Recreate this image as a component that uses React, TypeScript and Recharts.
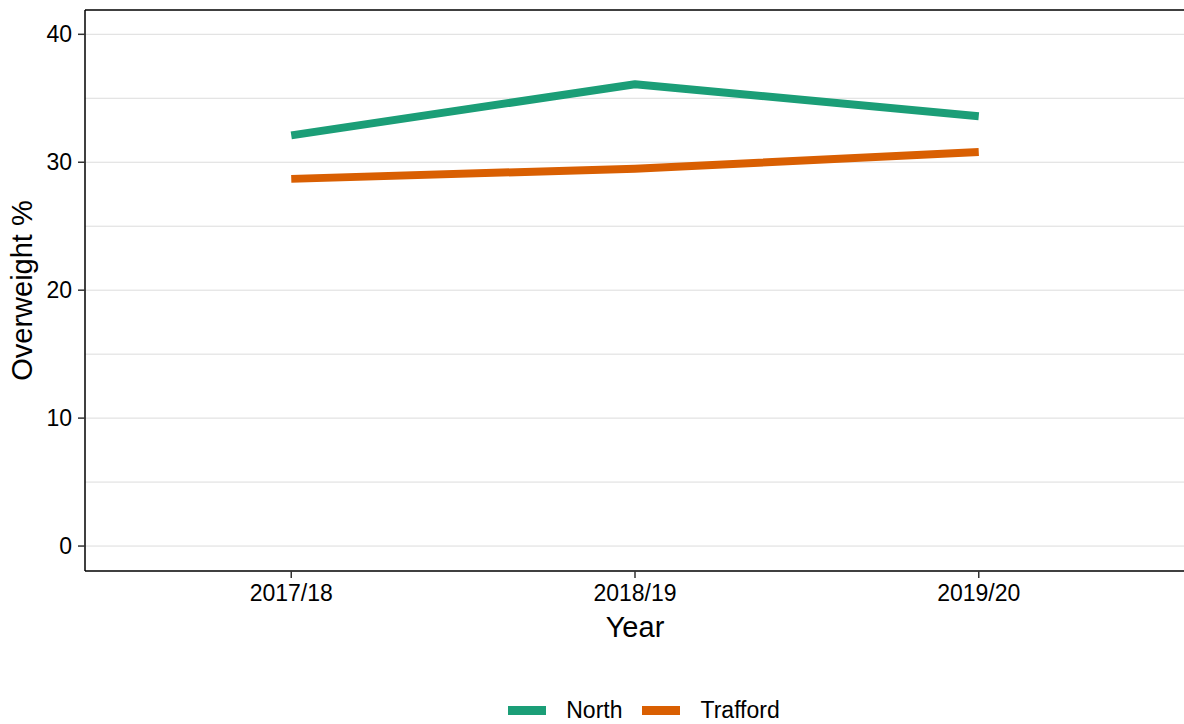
import { LineChart, Line, XAxis, YAxis, CartesianGrid, Legend, ReferenceLine } from 'recharts';

const years = ['2017/18', '2018/19', '2019/20'];
const north = [32.1, 36.1, 33.6];
const trafford = [28.7, 29.5, 30.8];
const yTicks = [0, 10, 20, 30, 40];
const gridValues = [0, 5, 10, 15, 20, 25, 30, 35, 40];
const yDomain = [-1.95, 41.9];

const series = [
  { key: 'north', name: 'North', color: '#1B9E77' },
  { key: 'trafford', name: 'Trafford', color: '#D95F02' },
];

const data = years.map((y, i) => ({ idx: i, year: y, north: north[i], trafford: trafford[i] }));

const FONT = '"Liberation Sans", Arial, sans-serif';

const LegendContent = () => (
  <div style={{ display: 'flex', justifyContent: 'center', alignItems: 'center', fontFamily: FONT, fontSize: 23, paddingLeft: 124 }}>
    {series.map((s) => (
      <div key={s.key} style={{ display: 'flex', alignItems: 'center', marginRight: 20 }}>
        <div style={{ width: 38, height: 9, background: s.color, marginRight: 20 }} />
        <span style={{ color: '#000' }}>{s.name}</span>
      </div>
    ))}
  </div>
);

const YLabel = (props: any) => {
  const vb = props.viewBox || {};
  const cx = 32;
  const cy = vb.y + vb.height / 2;
  return (
    <text x={cx} y={cy} transform={`rotate(-90 ${cx} ${cy})`} textAnchor="middle" fontSize={29} fontFamily={FONT} fill="#000">
      Overweight %
    </text>
  );
};

const App = () => {
  return (
    <div style={{ position: 'absolute', left: 0, top: 0, width: 1184, height: 724, background: '#fff' }}>
      <LineChart width={1184} height={724} data={data} margin={{ top: 10, right: -1, left: 0, bottom: 0 }} style={{ fontFamily: FONT }}>
        <CartesianGrid vertical={false} horizontalValues={gridValues} stroke="#dcdcdc" strokeWidth={1} />
        <XAxis
          dataKey="idx"
          type="number"
          domain={[-0.6, 2.6]}
          ticks={[0, 1, 2]}
          tickFormatter={(v: number) => years[v]}
          height={153}
          tickSize={7}
          tickMargin={7}
          tick={{ fontSize: 23, fill: '#000', fontFamily: FONT }}
          tickLine={{ stroke: '#333', strokeWidth: 1.5 }}
          axisLine={{ stroke: '#000', strokeWidth: 1.5 }}
          label={{ value: 'Year', position: 'insideTop', offset: 45, fontSize: 29, fill: '#000', fontFamily: FONT }}
        />
        <YAxis
          type="number"
          domain={yDomain}
          ticks={yTicks}
          width={85}
          tickSize={7}
          tickMargin={6}
          tick={{ fontSize: 23, fill: '#000', fontFamily: FONT }}
          tickLine={{ stroke: '#333', strokeWidth: 1.5 }}
          axisLine={{ stroke: '#000', strokeWidth: 1.5 }}
          allowDataOverflow
          label={<YLabel />}
        />
        <ReferenceLine y={yDomain[1]} stroke="#000" strokeWidth={1.5} />
        {series.map((s) => (
          <Line
            key={s.key}
            dataKey={s.key}
            name={s.name}
            stroke={s.color}
            strokeWidth={8}
            dot={false}
            activeDot={false}
            type="linear"
            strokeLinejoin="round"
            isAnimationActive={false}
          />
        ))}
        <Legend
          layout="horizontal"
          verticalAlign="middle"
          align="center"
          wrapperStyle={{ top: 697, left: 0, width: 1184 }}
          content={<LegendContent />}
        />
      </LineChart>
    </div>
  );
};

export default App;
